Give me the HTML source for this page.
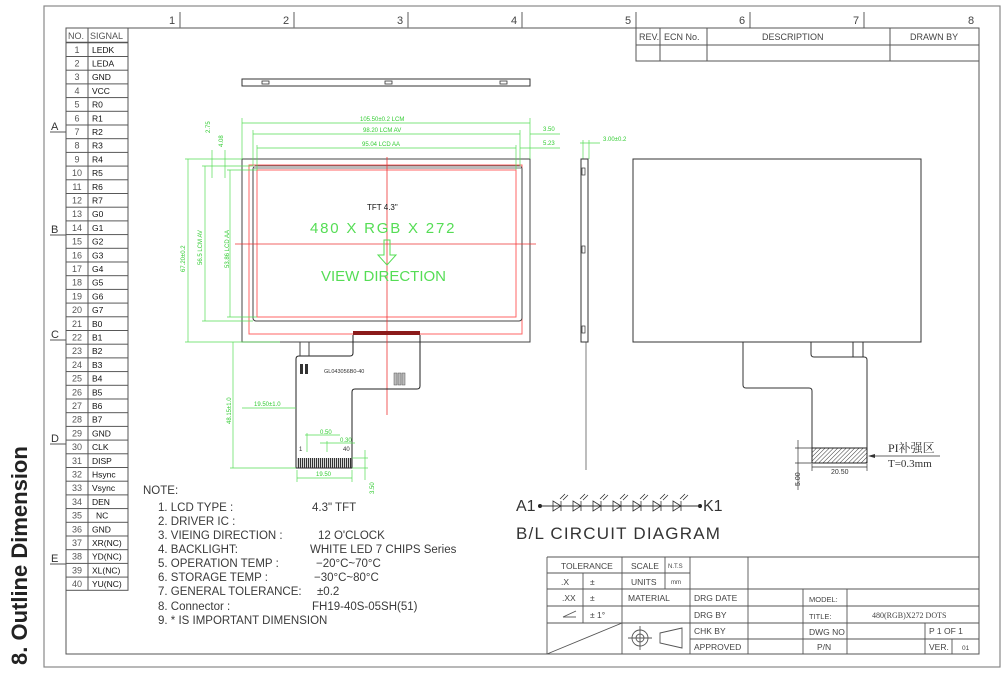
<!DOCTYPE html>
<html><head><meta charset="utf-8"><style>
html,body{margin:0;padding:0;background:#fff}
svg{display:block}
text{font-family:"Liberation Sans","Noto Sans CJK SC",sans-serif}
.c{fill:#444;font-size:11px}
.g{fill:#3c3;font-size:6px}
.n{fill:#3a3a3a;font-size:11.5px}
</style></head><body>
<svg width="1005" height="676" viewBox="0 0 1005 676" xmlns="http://www.w3.org/2000/svg">
<defs>
<pattern id="rows" x="0" y="42.3" width="100" height="13.7" patternUnits="userSpaceOnUse">
<line x1="0" y1="0.5" x2="100" y2="0.5" stroke="#555" stroke-width="1"/>
</pattern>
<pattern id="hatch" width="3" height="3" patternUnits="userSpaceOnUse" patternTransform="rotate(45)">
<line x1="0" y1="0" x2="0" y2="3" stroke="#333" stroke-width="1"/>
</pattern>
<pattern id="stripe" width="2" height="10" patternUnits="userSpaceOnUse">
<rect width="1.2" height="10" fill="#333"/>
</pattern>
</defs>

<rect x="44" y="6" width="956" height="661" fill="none" stroke="#888" stroke-width="1.2"/>
<rect x="66" y="28" width="913" height="626" fill="none" stroke="#555" stroke-width="1"/>
<g stroke="#777" stroke-width="1.2">
<line x1="180" y1="12" x2="180" y2="28"/><line x1="294" y1="12" x2="294" y2="28"/>
<line x1="408" y1="12" x2="408" y2="28"/><line x1="522" y1="12" x2="522" y2="28"/>
<line x1="636" y1="12" x2="636" y2="28"/><line x1="750" y1="12" x2="750" y2="28"/>
<line x1="864" y1="12" x2="864" y2="28"/>
</g>
<g class="c" font-size="12" fill="#555">
<text x="169" y="24">1</text><text x="283" y="24">2</text><text x="397" y="24">3</text>
<text x="511" y="24">4</text><text x="625" y="24">5</text><text x="739" y="24">6</text>
<text x="853" y="24">7</text><text x="968" y="24">8</text>
</g>
<g fill="#333" font-size="11">
<text x="51" y="130">A</text><text x="51" y="233">B</text><text x="51" y="338">C</text>
<text x="51" y="442">D</text><text x="51" y="562">E</text>
</g>
<g stroke="#555"><line x1="50" y1="132" x2="66" y2="132"/><line x1="50" y1="235" x2="66" y2="235"/>
<line x1="50" y1="340" x2="66" y2="340"/><line x1="50" y1="444" x2="66" y2="444"/><line x1="50" y1="564" x2="66" y2="564"/></g>

<text transform="translate(27,665) rotate(-90)" font-size="22" font-weight="bold" fill="#222">8. Outline Dimension</text>

<rect x="66" y="42.3" width="62" height="548" fill="url(#rows)"/>
<rect x="66" y="28" width="62" height="562.3" fill="none" stroke="#555"/>
<line x1="88" y1="28" x2="88" y2="590" stroke="#555"/>
<line x1="66" y1="42.3" x2="128" y2="42.3" stroke="#555"/>
<text x="68" y="39" font-size="9" fill="#555">NO.</text><text x="90" y="39" font-size="9" fill="#555">SIGNAL</text>
<g font-size="9" fill="#555" text-anchor="middle">
<text x="77" y="52.8">1</text><text x="77" y="66.5">2</text><text x="77" y="80.2">3</text><text x="77" y="93.9">4</text><text x="77" y="107.6">5</text><text x="77" y="121.3">6</text><text x="77" y="135">7</text><text x="77" y="148.7">8</text><text x="77" y="162.4">9</text><text x="77" y="176.1">10</text><text x="77" y="189.8">11</text><text x="77" y="203.5">12</text><text x="77" y="217.2">13</text><text x="77" y="230.9">14</text><text x="77" y="244.6">15</text><text x="77" y="258.3">16</text><text x="77" y="272">17</text><text x="77" y="285.7">18</text><text x="77" y="299.4">19</text><text x="77" y="313.1">20</text><text x="77" y="326.8">21</text><text x="77" y="340.5">22</text><text x="77" y="354.2">23</text><text x="77" y="367.9">24</text><text x="77" y="381.6">25</text><text x="77" y="395.3">26</text><text x="77" y="409">27</text><text x="77" y="422.7">28</text><text x="77" y="436.4">29</text><text x="77" y="450.1">30</text><text x="77" y="463.8">31</text><text x="77" y="477.5">32</text><text x="77" y="491.2">33</text><text x="77" y="504.9">34</text><text x="77" y="518.6">35</text><text x="77" y="532.3">36</text><text x="77" y="546">37</text><text x="77" y="559.7">38</text><text x="77" y="573.4">39</text><text x="77" y="587.1">40</text>
</g>
<g font-size="8.5" fill="#111">
<text x="92" y="52.8">LEDK</text><text x="92" y="66.5">LEDA</text><text x="92" y="80.2">GND</text><text x="92" y="93.9">VCC</text><text x="92" y="107.6">R0</text><text x="92" y="121.3">R1</text><text x="92" y="135">R2</text><text x="92" y="148.7">R3</text><text x="92" y="162.4">R4</text><text x="92" y="176.1">R5</text><text x="92" y="189.8">R6</text><text x="92" y="203.5">R7</text><text x="92" y="217.2">G0</text><text x="92" y="230.9">G1</text><text x="92" y="244.6">G2</text><text x="92" y="258.3">G3</text><text x="92" y="272">G4</text><text x="92" y="285.7">G5</text><text x="92" y="299.4">G6</text><text x="92" y="313.1">G7</text><text x="92" y="326.8">B0</text><text x="92" y="340.5">B1</text><text x="92" y="354.2">B2</text><text x="92" y="367.9">B3</text><text x="92" y="381.6">B4</text><text x="92" y="395.3">B5</text><text x="92" y="409">B6</text><text x="92" y="422.7">B7</text><text x="92" y="436.4">GND</text><text x="92" y="450.1">CLK</text><text x="92" y="463.8">DISP</text><text x="92" y="477.5">Hsync</text><text x="92" y="491.2">Vsync</text><text x="92" y="504.9">DEN</text><text x="96" y="518.6">NC</text><text x="92" y="532.3">GND</text><text x="92" y="546">XR(NC)</text><text x="92" y="559.7">YD(NC)</text><text x="92" y="573.4">XL(NC)</text><text x="92" y="587.1">YU(NC)</text>
</g>

<g stroke="#555" fill="none">
<rect x="636" y="28" width="343" height="33"/>
<line x1="636" y1="45" x2="979" y2="45"/>
<line x1="660" y1="28" x2="660" y2="61"/><line x1="707" y1="28" x2="707" y2="61"/><line x1="890" y1="28" x2="890" y2="61"/>
</g>
<g font-size="9" fill="#444">
<text x="639" y="40">REV.</text><text x="664" y="40">ECN  No.</text><text x="762" y="40">DESCRIPTION</text><text x="910" y="40">DRAWN  BY</text>
</g>

<rect x="242" y="79" width="288" height="7" fill="none" stroke="#333"/>
<g fill="none" stroke="#333" stroke-width="0.8"><rect x="262" y="81" width="7" height="3"/><rect x="385" y="81" width="7" height="3"/><rect x="500" y="81" width="7" height="3"/></g>

<rect x="242" y="159" width="288" height="183" fill="none" stroke="#444"/>
<rect x="249" y="165" width="273" height="169" fill="none" stroke="#f66"/>
<rect x="253" y="166" width="269" height="155" rx="3" fill="none" stroke="#444"/>
<rect x="254" y="166" width="267" height="3" fill="#bbb"/>
<rect x="257" y="170" width="259" height="147" fill="none" stroke="#f66"/>
<line x1="387" y1="157" x2="387" y2="415" stroke="#e33" stroke-width="0.8"/>
<line x1="235" y1="244" x2="536" y2="244" stroke="#e33" stroke-width="0.8"/>
<rect x="353" y="331" width="67" height="4" fill="#8b1a1a"/>
<text x="367" y="210" font-size="8" fill="#111">TFT 4.3"</text>
<text x="310" y="233" font-size="15" fill="#5d5" letter-spacing="1.8">480 X RGB X 272</text>
<path d="M384 240 H390 V255 H396 L387 265 L378 255 H384 Z" fill="none" stroke="#5d5"/>
<text x="321" y="281" font-size="15" fill="#5d5">VIEW DIRECTION</text>

<path d="M353 335 V353 Q353 356 350 356 H299 Q296 356 296 359 V468 H352 V392 Q352 389 355 389 H417 Q420 389 420 386 V335" fill="none" stroke="#222"/>
<rect x="297" y="458" width="55" height="10" fill="url(#stripe)"/>
<line x1="300" y1="342" x2="300" y2="356" stroke="#444"/><line x1="309" y1="342" x2="309" y2="356" stroke="#444"/>
<rect x="300" y="364" width="3" height="10" fill="#333"/><rect x="305" y="364" width="3" height="10" fill="#333"/>
<text x="324" y="373" font-size="5.5" fill="#333">GL043056B0-40</text>
<rect x="394" y="373" width="3" height="12" fill="#bbb" stroke="#555" stroke-width="0.5"/>
<rect x="398" y="373" width="3" height="12" fill="#bbb" stroke="#555" stroke-width="0.5"/>
<rect x="402" y="373" width="3" height="12" fill="#bbb" stroke="#555" stroke-width="0.5"/>
<text x="299" y="451" font-size="6" fill="#333">1</text><text x="343" y="451" font-size="6" fill="#333">40</text>

<g stroke="#5d5" stroke-width="0.7" fill="none">
<line x1="242" y1="123" x2="530" y2="123"/><line x1="242" y1="118" x2="242" y2="159"/><line x1="530" y1="118" x2="530" y2="159"/>
<line x1="253" y1="134" x2="520" y2="134"/><line x1="253" y1="130" x2="253" y2="166"/><line x1="520" y1="130" x2="520" y2="166"/><line x1="530" y1="134" x2="560" y2="134"/>
<line x1="257" y1="148" x2="516" y2="148"/><line x1="257" y1="145" x2="257" y2="170"/><line x1="516" y1="145" x2="516" y2="170"/><line x1="520" y1="148" x2="560" y2="148"/>
<line x1="188" y1="159" x2="188" y2="342"/><line x1="185" y1="159" x2="242" y2="159"/><line x1="185" y1="342" x2="280" y2="342"/>
<line x1="205" y1="166" x2="205" y2="321"/><line x1="202" y1="166" x2="253" y2="166"/><line x1="202" y1="321" x2="253" y2="321"/>
<line x1="230" y1="170" x2="230" y2="317"/><line x1="227" y1="170" x2="257" y2="170"/><line x1="227" y1="317" x2="257" y2="317"/>
<line x1="212" y1="150" x2="212" y2="178"/><line x1="225" y1="150" x2="225" y2="178"/>
<line x1="233" y1="342" x2="233" y2="468"/><line x1="230" y1="468" x2="296" y2="468"/>
<line x1="242" y1="408" x2="296" y2="408"/>
<line x1="297" y1="478" x2="352" y2="478"/><line x1="297" y1="470" x2="297" y2="482"/><line x1="352" y1="470" x2="352" y2="482"/>
<line x1="305" y1="435" x2="340" y2="435"/><line x1="307" y1="433" x2="307" y2="452"/>
<line x1="320" y1="443" x2="355" y2="443"/><line x1="327" y1="441" x2="327" y2="452"/>
<line x1="352" y1="458" x2="368" y2="458"/><line x1="352" y1="468" x2="368" y2="468"/><line x1="365" y1="450" x2="365" y2="480"/>
<line x1="580" y1="143" x2="600" y2="143"/><line x1="583" y1="140" x2="583" y2="159"/><line x1="589" y1="140" x2="589" y2="159"/>
</g>
<g class="g">
<text x="360" y="121">105.50±0.2 LCM</text>
<text x="363" y="132">98.20 LCM AV</text>
<text x="362" y="146">95.04 LCD AA</text>
<text x="543" y="131">3.50</text><text x="543" y="145">5.23</text>
<text x="603" y="141">3.00±0.2</text>
<text x="254" y="406">19.50±1.0</text>
<text x="320" y="434">0.50</text><text x="340" y="442">0.30</text>
<text x="316" y="476">19.50</text>
<text transform="translate(185,272) rotate(-90)">67.20±0.2</text>
<text transform="translate(202,265) rotate(-90)">56.5 LCM AV</text>
<text transform="translate(229,268) rotate(-90)">53.86 LCD AA</text>
<text transform="translate(210,133) rotate(-90)">2.75</text>
<text transform="translate(223,147) rotate(-90)">4.08</text>
<text transform="translate(231,424) rotate(-90)">48.15±1.0</text>
<text transform="translate(374,494) rotate(-90)">3.50</text>
</g>

<rect x="581" y="159" width="7" height="183" fill="none" stroke="#333"/>
<rect x="582" y="168" width="3" height="7" fill="none" stroke="#333" stroke-width="0.7"/>
<rect x="582" y="246" width="3" height="7" fill="none" stroke="#333" stroke-width="0.7"/>
<rect x="582" y="326" width="3" height="7" fill="none" stroke="#333" stroke-width="0.7"/>
<line x1="586" y1="342" x2="586" y2="470" stroke="#444" stroke-width="0.7"/>

<rect x="633" y="159" width="288" height="183" fill="none" stroke="#333"/>
<path d="M743 342 V385 Q743 388 746 388 H809 Q812 388 812 391 V463 H867 V360 Q867 357 864 357 H814 Q811 357 811 354 V342" fill="none" stroke="#333"/>
<line x1="853" y1="342" x2="853" y2="357" stroke="#333"/><line x1="863" y1="342" x2="863" y2="357" stroke="#333"/>
<rect x="812" y="448" width="55" height="15" fill="url(#hatch)" stroke="#222"/>
<g stroke="#333" stroke-width="0.7"><line x1="812" y1="467" x2="867" y2="467"/><line x1="812" y1="464" x2="812" y2="471"/><line x1="867" y1="464" x2="867" y2="471"/>
<line x1="798" y1="440" x2="798" y2="490"/><line x1="795" y1="448" x2="812" y2="448"/><line x1="795" y1="463" x2="812" y2="463"/>
<line x1="870" y1="456" x2="940" y2="456"/></g>
<path d="M868 456 L875 454 L875 458 Z" fill="#333"/>
<text x="831" y="474" font-size="7" fill="#333">20.50</text>
<text transform="translate(800,486) rotate(-90)" font-size="7" fill="#333">5.00</text>
<text x="888" y="452" font-size="12" fill="#333" style="font-family:'Liberation Serif','Noto Serif CJK SC',serif">PI补强区</text>
<text x="888" y="467" font-size="11" fill="#333" style="font-family:'Liberation Serif',serif">T=0.3mm</text>

<g class="n">
<text x="143" y="494">NOTE:</text>
<text x="158" y="511">1. LCD TYPE :</text><text x="312" y="511">4.3"    TFT</text>
<text x="158" y="525">2. DRIVER IC :</text>
<text x="158" y="539">3. VIEING DIRECTION :</text><text x="318" y="539">12 O'CLOCK</text>
<text x="158" y="553">4. BACKLIGHT:</text><text x="310" y="553">WHITE LED 7 CHIPS Series</text>
<text x="158" y="567">5. OPERATION TEMP :</text><text x="316" y="567">−20°C~70°C</text>
<text x="158" y="581">6. STORAGE TEMP :</text><text x="314" y="581">−30°C~80°C</text>
<text x="158" y="595">7. GENERAL TOLERANCE:</text><text x="317" y="595">±0.2</text>
<text x="158" y="610">8. Connector :</text><text x="312" y="610">FH19-40S-05SH(51)</text>
<text x="158" y="624">9. * IS IMPORTANT DIMENSION</text>
</g>

<text x="516" y="511" font-size="16" fill="#333">A1</text>
<circle cx="540" cy="506" r="2" fill="#222"/><circle cx="700" cy="506" r="2" fill="#222"/>
<line x1="540" y1="506" x2="700" y2="506" stroke="#333"/>
<g fill="none" stroke="#333" stroke-width="0.8">
<path d="M553 501 V511 L561 506 Z M561 501 V511 M560 499 L565 494 M563 500 L568 495"/>
<path d="M573 501 V511 L581 506 Z M581 501 V511 M580 499 L585 494 M583 500 L588 495"/>
<path d="M593 501 V511 L601 506 Z M601 501 V511 M600 499 L605 494 M603 500 L608 495"/>
<path d="M613 501 V511 L621 506 Z M621 501 V511 M620 499 L625 494 M623 500 L628 495"/>
<path d="M633 501 V511 L641 506 Z M641 501 V511 M640 499 L645 494 M643 500 L648 495"/>
<path d="M653 501 V511 L661 506 Z M661 501 V511 M660 499 L665 494 M663 500 L668 495"/>
<path d="M673 501 V511 L681 506 Z M681 501 V511 M680 499 L685 494 M683 500 L688 495"/>
</g>
<text x="703" y="511" font-size="16" fill="#333">K1</text>
<text x="516" y="539" font-size="17" fill="#333" letter-spacing="1.2">B/L CIRCUIT DIAGRAM</text>

<g stroke="#555" fill="none" stroke-width="0.9">
<line x1="547" y1="557" x2="979" y2="557"/>
<line x1="547" y1="557" x2="547" y2="654"/>
<line x1="547" y1="573" x2="690" y2="573"/>
<line x1="547" y1="589" x2="979" y2="589"/>
<line x1="547" y1="606" x2="979" y2="606"/>
<line x1="547" y1="623" x2="979" y2="623"/>
<line x1="690" y1="639" x2="979" y2="639"/>
<line x1="583" y1="573" x2="583" y2="623"/>
<line x1="622" y1="557" x2="622" y2="654"/>
<line x1="665" y1="557" x2="665" y2="589"/>
<line x1="690" y1="557" x2="690" y2="654"/>
<line x1="748" y1="557" x2="748" y2="654"/>
<line x1="803" y1="589" x2="803" y2="654"/>
<line x1="847" y1="589" x2="847" y2="654"/>
<line x1="925" y1="623" x2="925" y2="654"/>
<line x1="952" y1="639" x2="952" y2="654"/>
<line x1="547" y1="654" x2="622" y2="623"/>
<circle cx="640" cy="638" r="8"/><circle cx="640" cy="638" r="4"/>
<line x1="628" y1="638" x2="652" y2="638"/><line x1="640" y1="626" x2="640" y2="650"/>
<path d="M660 633 L682 628 V648 L660 643 Z"/>
<line x1="563" y1="617" x2="576" y2="611"/><line x1="563" y1="617" x2="576" y2="617"/>
</g>
<g font-size="8.5" fill="#444">
<text x="561" y="569">TOLERANCE</text><text x="631" y="569">SCALE</text><text x="668" y="568" font-size="6">N.T.S</text>
<text x="561" y="585">.X</text><text x="590" y="585">±</text><text x="631" y="585">UNITS</text><text x="671" y="584" font-size="6">mm</text>
<text x="562" y="601">.XX</text><text x="590" y="601">±</text><text x="628" y="601">MATERIAL</text><text x="694" y="601">DRG  DATE</text><text x="809" y="602" font-size="7.5">MODEL:</text>
<text x="590" y="618">± 1°</text><text x="694" y="618">DRG  BY</text><text x="809" y="619" font-size="7.5">TITLE:</text>
<text x="872" y="618" font-size="8" style="font-family:'Liberation Serif',serif">480(RGB)X272 DOTS</text>
<text x="694" y="634">CHK  BY</text><text x="809" y="635">DWG  NO</text><text x="929" y="634">P  1 OF  1</text>
<text x="694" y="650">APPROVED</text><text x="817" y="650">P/N</text><text x="929" y="650">VER.</text><text x="962" y="650" font-size="6.5">01</text>
</g>
</svg>
</body></html>
